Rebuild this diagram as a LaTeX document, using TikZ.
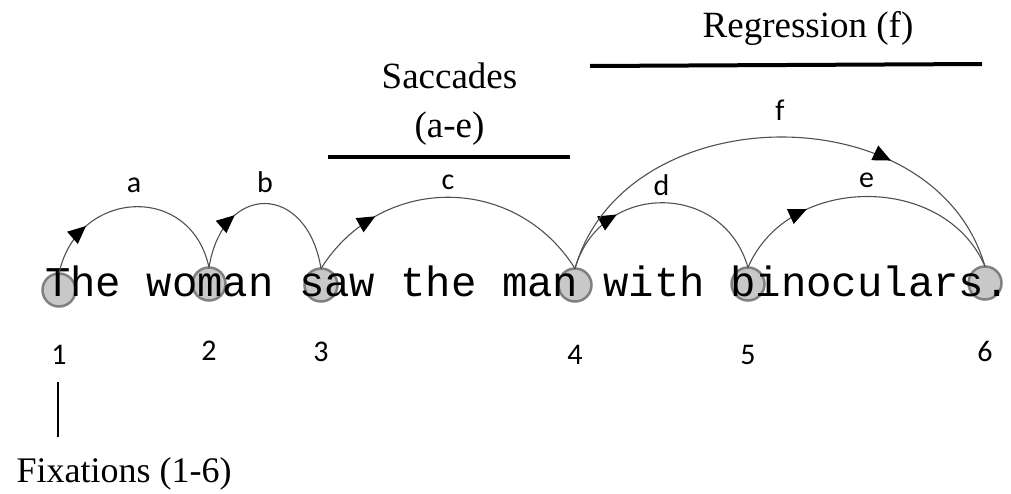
\documentclass[tikz,border=0pt]{standalone}
\usepackage{fontspec}
\setmainfont{Liberation Serif}
\newfontfamily\labelfont{Carlito}
\newfontfamily\wordfont{Liberation Mono}
\usetikzlibrary{arrows.meta,positioning,decorations.markings}
\definecolor{fixfill}{RGB}{200,200,200}
\definecolor{fixdraw}{RGB}{128,128,128}
\definecolor{arcgray}{RGB}{80,80,80}

\begin{document}
\begin{tikzpicture}[x=1pt, y=-1pt,
  fixation/.style={circle, draw=fixdraw, fill=fixfill, line width=2.5pt, minimum size=33pt, inner sep=0pt, outer sep=0pt},
  saccade/.style={draw=arcgray, line width=1.1pt, postaction={decorate},
    decoration={markings, mark=at position #1 with {\arrow[black]{Triangle[length=18pt,width=16pt]}}}},
  letter/.style={font=\labelfont\fontsize{30}{34}\selectfont, inner sep=0pt},
  heading/.style={font=\fontsize{37}{44}\selectfont, inner sep=0pt, anchor=base},
  sentence/.style={font=\wordfont\fontsize{42.3}{50}\selectfont, inner sep=0pt, anchor=base west},
  bar/.style={line width=4pt}]
\useasboundingbox (0,0) rectangle (1011,493);

% fixations on the sentence
\node[fixation] (f1) at (59,290) {};
\node[fixation] (f2) at (209,284) {};
\node[fixation] (f3) at (321,285) {};
\node[fixation] (f4) at (575,285) {};
\node[fixation] (f5) at (748,284) {};
\node[fixation] (f6) at (985,283) {};
\node[sentence] (words) at (45,296) {The woman saw the man with binoculars.};

\node[letter, below=38pt of f1] (n1) {1};
\node[letter, below=40pt of f2] (n2) {2};
\node[letter, below=40pt of f3] (n3) {3};
\node[letter, below=44pt of f4] (n4) {4};
\node[letter, below=45pt of f5] (n5) {5};
\node[letter, below=42pt of f6] (n6) {6};

% saccades and the regression
\path[saccade=0.26] (f1.north) .. controls +(18,-85) and +(-18,-85) .. (f2.north)
  node[letter, midway, above=13pt] {a};
\path[saccade=0.32] (f2.north) .. controls +(14,-86) and +(-14,-86) .. (f3.north)
  node[letter, midway, above=10pt] {b};
\path[saccade=0.25] (f3.north) .. controls +(60,-95) and +(-60,-95) .. (f4.north)
  node[letter, midway, above=7pt] {c};
\path[saccade=0.30] (f4.north) .. controls +(25,-87) and +(-25,-87) .. (f5.north)
  node[letter, midway, above=7pt] {d};
\path[saccade=0.29] (f5.north) .. controls +(40,-94) and +(-40,-94) .. (f6.north)
  node[letter, midway, above=8pt] {e};
\path[saccade=0.72] (f4.north) .. controls +(50,-174) and +(-50,-174) .. (f6.north)
  node[letter, midway, above=16pt] {f};

% headings
\coordinate (sacL) at (328,157);
\coordinate (sacR) at (570,157);
\draw[bar] (sacL) -- (sacR);
\node[heading] (sacc) at (449.5,88) {Saccades};
\node[heading] (saccrange) at (449.5,137) {(a-e)};

\coordinate (regL) at (590,66);
\coordinate (regR) at (982,64);
\draw[bar] (regL) -- (regR);
\node[heading] (regress) at (808,37) {Regression (f)};

\coordinate (fixtop) at (58,382);
\coordinate (fixbot) at (58,437);
\draw[line width=2.5pt] (fixtop) -- (fixbot);
\node[heading, font=\fontsize{36}{44}\selectfont] (fixlabel) at (124,482) {Fixations (1-6)};
\end{tikzpicture}
\end{document}
